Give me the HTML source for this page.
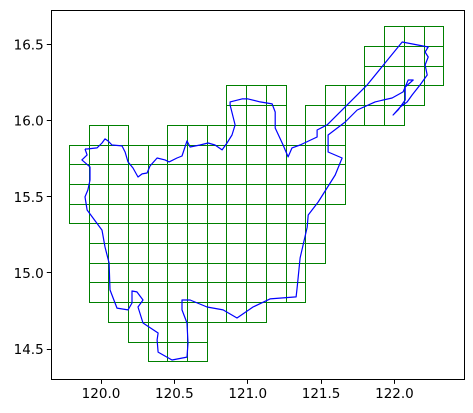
<!DOCTYPE html>
<html><head><meta charset="utf-8"><style>
html,body{margin:0;padding:0;background:#fff;}
svg{display:block;font-family:"DejaVu Sans","Liberation Sans",sans-serif;}
</style></head><body>
<svg id="chart" width="473" height="413" viewBox="0 0 473 413" xmlns="http://www.w3.org/2000/svg">
<g id="grid"></g>
<g id="coast"></g>
<g id="axes"></g>
</svg>
<script>
const xTicks = [120.0, 120.5, 121.0, 121.5, 122.0];
const xTickLabels = ["120.0", "120.5", "121.0", "121.5", "122.0"];
const yTicks = [14.5, 15.0, 15.5, 16.0, 16.5];
const yTickLabels = ["14.5", "15.0", "15.5", "16.0", "16.5"];
const xLim = [119.664, 122.476];
const yLim = [14.303, 16.725];
const gridLon0 = 119.784;
const gridLat0 = 16.616;
const gridDLon = 0.1343;
const gridDLat = 0.1294;
// each row: list of [firstCol, lastCol] ranges
const gridRows = [
 [[16,18]],[[15,18]],[[15,18]],[[8,10],[13,17]],[[8,10],[12,16]],
 [[1,2],[5,13]],[[0,13]],[[0,13]],[[0,13]],[[0,12]],
 [[1,12]],[[1,12]],[[1,11]],[[1,11]],[[2,9]],[[3,6]],[[4,6]]
];
const coastLon = [119.891,119.905,119.973,120.007,120.027,120.048,120.075,120.143,120.164,120.184,120.218,120.252,120.280,120.314,120.334,120.382,120.436,120.464,120.518,120.552,120.586,120.607,120.675,120.730,120.777,120.825,120.859,120.893,120.914,120.880,120.880,120.961,121.002,121.084,121.166,121.187,121.187,121.241,121.275,121.302,121.357,121.473,121.473,121.541,121.814,122.053,122.230,122.209,122.230,122.209,122.223,122.175,122.121,122.087,122.039,121.991,122.025,122.073,122.073,122.128,122.094,122.059,121.984,121.868,121.746,121.664,121.548,121.548,121.643,121.596,121.480,121.412,121.405,121.357,121.337,121.330,121.152,121.036,120.927,120.832,120.723,120.607,120.552,120.552,120.586,120.593,120.586,120.484,120.389,120.382,120.389,120.286,120.252,120.286,120.245,120.211,120.211,120.184,120.109,120.061,120.055,120.027,120.007,119.905,119.891,119.911,119.925,119.925,119.870,119.905,119.891];
const coastLat = [15.814,15.814,15.821,15.853,15.880,15.867,15.840,15.834,15.794,15.729,15.689,15.630,15.650,15.656,15.702,15.755,15.742,15.729,15.755,15.768,15.867,15.827,15.840,15.853,15.840,15.808,15.853,15.906,15.972,16.103,16.123,16.143,16.143,16.123,16.110,16.057,15.952,15.840,15.762,15.821,15.840,15.893,15.939,15.972,16.235,16.517,16.484,16.451,16.418,16.366,16.300,16.235,16.169,16.123,16.090,16.037,16.070,16.136,16.221,16.267,16.267,16.189,16.149,16.123,16.070,15.991,15.906,15.794,15.755,15.643,15.466,15.380,15.301,15.098,14.907,14.842,14.829,14.776,14.704,14.757,14.776,14.822,14.822,14.757,14.671,14.539,14.447,14.428,14.480,14.560,14.605,14.671,14.776,14.822,14.875,14.881,14.802,14.757,14.769,14.888,15.065,15.170,15.281,15.413,15.499,15.545,15.610,15.696,15.742,15.775,15.814];

const NS = "http://www.w3.org/2000/svg";
const L = 51.7, R = 464.3, T = 10.3, B = 379;
function sx(v){ return L + (v - xLim[0]) / (xLim[1] - xLim[0]) * (R - L); }
function sy(v){ return B - (v - yLim[0]) / (yLim[1] - yLim[0]) * (B - T); }
function snap(p){ return Math.round(p - 0.5) + 0.5; }
function mk(tag, attrs, parent){ const e = document.createElementNS(NS, tag); for (const k in attrs) e.setAttribute(k, attrs[k]); parent.appendChild(e); return e; }

const gG = document.getElementById('grid');
gridRows.forEach((ranges, r) => {
  ranges.forEach(([a, b]) => {
    for (let c = a; c <= b; c++) {
      const lon1 = gridLon0 + c * gridDLon, lon2 = lon1 + gridDLon;
      const lat1 = gridLat0 - r * gridDLat, lat2 = lat1 - gridDLat;
      const x = snap(sx(lon1)), y = snap(sy(lat1));
      const x2 = snap(sx(lon2)), y2 = snap(sy(lat2));
      const el = mk('rect', {x: x, y: y, width: x2 - x, height: y2 - y, fill: 'none', stroke: '#008000', 'stroke-width': 1}, gG);
      
      
    }
  });
});

const cG = document.getElementById('coast');
const pts = coastLon.map((v, i) => sx(v).toFixed(1) + ',' + sy(coastLat[i]).toFixed(1)).join(' ');
const line = mk('polyline', {points: pts, fill: 'none', stroke: '#0000ff', 'stroke-width': 1.2, 'stroke-linejoin': 'round'}, cG);



const aG = document.getElementById('axes');
const frame = mk('rect', {x: snap(L), y: snap(T), width: snap(R) - snap(L), height: snap(B) - snap(T), fill: 'none', stroke: '#000', 'stroke-width': 1}, aG);


xTicks.forEach((v, i) => {
  const x = snap(sx(v));
  const t = mk('line', {x1: x, y1: B, x2: x, y2: B + 4.9, stroke: '#000', 'stroke-width': 1}, aG);
  
  
  const lb = mk('text', {x: sx(v), y: B + 19, 'text-anchor': 'middle', 'font-size': 13.5, fill: '#000'}, aG);
  lb.textContent = xTickLabels[i];
  
  
});
yTicks.forEach((v, i) => {
  const y = snap(sy(v));
  const t = mk('line', {x1: L - 4.9, y1: y, x2: L, y2: y, stroke: '#000', 'stroke-width': 1}, aG);
  
  
  const lb = mk('text', {x: L - 8, y: sy(v) + 5, 'text-anchor': 'end', 'font-size': 13.5, fill: '#000'}, aG);
  lb.textContent = yTickLabels[i];
  
  
});
</script>
</body></html>
